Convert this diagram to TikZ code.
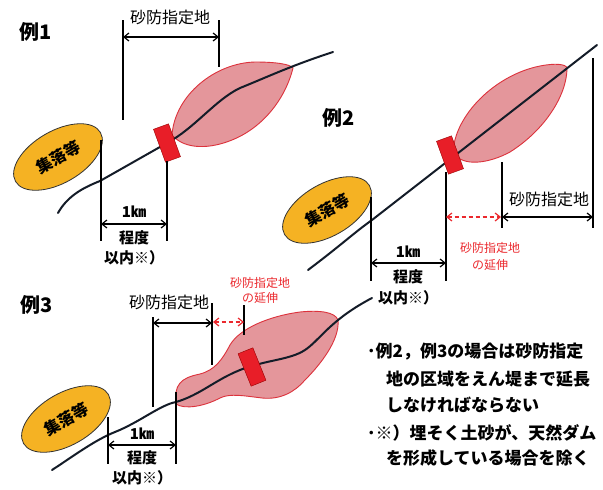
\documentclass[tikz,border=0pt]{standalone}
\usepackage{fontspec}
\setmainfont{Noto Sans CJK JP}
\usetikzlibrary{arrows.meta,shapes.geometric}
\definecolor{lensfill}{RGB}{228,150,155}
\definecolor{lensedge}{RGB}{220,50,60}
\definecolor{damred}{RGB}{232,30,40}
\definecolor{orangefill}{RGB}{245,178,35}
\definecolor{riverc}{RGB}{20,28,40}
\definecolor{redtext}{RGB}{235,40,45}
\tikzset{
  river/.style={draw=riverc,line width=2pt,line cap=round},
  lens/.style={fill=lensfill,draw=lensedge,line width=0.9pt},
  dam/.style={rectangle,fill=damred,draw=red!60!black,line width=0.4pt,minimum width=16pt,minimum height=35pt,inner sep=0pt},
  village/.style={ellipse,fill=orangefill,draw=black!80,line width=0.8pt,minimum width=98pt,minimum height=52pt,inner sep=0pt,font=\fontsize{16}{16}\selectfont\bfseries},
  vline/.style={draw=black,line width=1.2pt},
  dim/.style={draw=black,line width=1.2pt,{Straight Barb[length=5pt,width=8pt]}-{Straight Barb[length=5pt,width=8pt]}},
  reddim/.style={draw=redtext,line width=1.2pt,dashed,dash pattern=on 4pt off 3pt,{Straight Barb[length=5pt,width=8pt]}-{Straight Barb[length=5pt,width=8pt]}},
  exlabel/.style={font=\fontsize{20}{20}\selectfont\bfseries},
  toplabel/.style={font=\fontsize{16}{16}\selectfont},
  kmlabel/.style={font=\fontsize{15}{15}\selectfont\bfseries,inner sep=0pt},
  redlabel/.style={text=redtext,font=\fontsize{12}{12}\selectfont,inner sep=0pt},
  note/.style={anchor=west,inner sep=0pt,font=\fontsize{17}{17}\selectfont\bfseries}
}
\begin{document}
\begin{tikzpicture}[x=1pt,y=-1pt]
\useasboundingbox (0,0) rectangle (603,490);
\fill[white] (0,0) rectangle (603,490);

% ================= Example 1 =================
\node[exlabel] (ex1) at (36,32) {例1};
\path[lens] (172,135) .. controls (175,95) and (215,63) .. (255,62)
  .. controls (275,62) and (290,64) .. (293,68)
  .. controls (285,100) and (262,128) .. (232,140)
  .. controls (210,149) and (185,150) .. (172,135) -- cycle;
\path[river] (58,213) .. controls (68,195) and (85,187) .. (100,181) -- (167,143)
  .. controls (195,128) and (215,100) .. (240,88)
  .. controls (265,78) and (290,66) .. (333,52);
\node[dam,rotate=20] (dam1) at (167,143) {};
\node[village,rotate=30] (vil1) at (58,157) {集落等};
\coordinate (a1t) at (123,20); \coordinate (a1b) at (123,120);
\coordinate (b1t) at (219,20); \coordinate (b1b) at (219,67);
\draw[vline] (a1t) -- (a1b);
\draw[vline] (b1t) -- (b1b);
\draw[dim] (123,37) -- (219,37);
\node[toplabel] (t1) at (170,17) {砂防指定地};
\coordinate (c1t) at (101,140); \coordinate (c1b) at (101,241);
\coordinate (d1t) at (167,161); \coordinate (d1b) at (167,241);
\draw[vline] (c1t) -- (c1b);
\draw[vline] (d1t) -- (d1b);
\draw[dim] (101,224) -- (167,224);
\node[kmlabel] (km1) at (134,212) {1㎞};
\node[kmlabel] (deg1) at (134,238) {程度};
\node[kmlabel] (in1) at (134,258) {以内※）};

% ================= Example 2 =================
\node[exlabel] (ex2) at (339,118) {例2};
\path[lens] (453,152) .. controls (455,115) and (495,75) .. (540,66)
  .. controls (555,63) and (566,64) .. (567,68)
  .. controls (567,95) and (545,130) .. (510,152)
  .. controls (490,163) and (462,168) .. (453,152) -- cycle;
\path[river] (308,270) .. controls (340,246) and (355,232) .. (372,220) -- (597,45);
\node[dam,rotate=20] (dam2) at (450,155) {};
\node[village,rotate=30] (vil2) at (327,210) {集落等};
\coordinate (a2t) at (371,197); \coordinate (a2b) at (371,281);
\coordinate (b2t) at (446,172); \coordinate (b2b) at (446,281);
\coordinate (c2t) at (502,162); \coordinate (c2b) at (502,228);
\coordinate (d2t) at (593,58); \coordinate (d2b) at (593,228);
\draw[vline] (a2t) -- (a2b);
\draw[vline] (b2t) -- (b2b);
\draw[vline] (c2t) -- (c2b);
\draw[vline] (d2t) -- (d2b);
\draw[dim] (371,263) -- (446,263);
\draw[dim] (502,217) -- (593,217);
\draw[reddim] (446,217) -- (501,217);
\node[toplabel] (t2) at (549,199) {砂防指定地};
\node[redlabel] (r2a) at (490,248) {砂防指定地};
\node[redlabel] (r2b) at (490,265) {の延伸};
\node[kmlabel] (km2) at (408,252) {1㎞};
\node[kmlabel] (deg2) at (408,277) {程度};
\node[kmlabel] (in2) at (408,298) {以内※）};

% ================= Example 3 =================
\node[exlabel] (ex3) at (37,305) {例3};
\path[lens] (176,404) .. controls (174,385) and (180,378) .. (200,374)
  .. controls (215,370) and (222,360) .. (230,345)
  .. controls (240,328) and (270,316) .. (300,312)
  .. controls (320,310) and (335,312) .. (338,320)
  .. controls (340,340) and (320,365) .. (305,380)
  .. controls (295,392) and (280,400) .. (262,398)
  .. controls (245,396) and (230,393) .. (220,398)
  .. controls (205,406) and (185,410) .. (176,404) -- cycle;
\path[river] (52,470) .. controls (75,455) and (95,440) .. (115,432)
  .. controls (140,422) and (160,405) .. (176,402)
  .. controls (200,395) and (215,380) .. (240,370)
  .. controls (265,360) and (290,360) .. (305,350)
  .. controls (320,340) and (330,320) .. (372,298);
\node[dam,rotate=22] (dam3) at (252,367) {};
\node[village,rotate=30] (vil3) at (66,419) {集落等};
\coordinate (a3t) at (153,317); \coordinate (a3b) at (153,407);
\coordinate (b3t) at (212,303); \coordinate (b3b) at (212,365);
\coordinate (e3t) at (244,305); \coordinate (e3b) at (244,335);
\draw[vline] (a3t) -- (a3b);
\draw[vline] (b3t) -- (b3b);
\draw[vline] (e3t) -- (e3b);
\draw[dim] (153,323) -- (212,323);
\draw[reddim] (213,322) -- (244,322);
\node[toplabel] (t3) at (169,302) {砂防指定地};
\node[redlabel] (r3a) at (260,283) {砂防指定地};
\node[redlabel] (r3b) at (260,298) {の延伸};
\coordinate (c3t) at (108,417); \coordinate (c3b) at (108,464);
\coordinate (d3t) at (176,392); \coordinate (d3b) at (176,464);
\draw[vline] (c3t) -- (c3b);
\draw[vline] (d3t) -- (d3b);
\draw[dim] (108,445) -- (176,445);
\node[kmlabel] (km3) at (142,434) {1㎞};
\node[kmlabel] (deg3) at (142,458) {程度};
\node[kmlabel] (in3) at (142,478) {以内※）};

% ================= Notes =================
\node[note] (n1) at (367,352) {･例2，例3の場合は砂防指定};
\node[note] (n2) at (386,379) {地の区域をえん堤まで延長};
\node[note] (n3) at (386,405) {しなければならない};
\node[note] (n4) at (367,433) {･※）埋そく土砂が、天然ダム};
\node[note] (n5) at (386,458) {を形成している場合を除く};
\end{tikzpicture}
\end{document}
